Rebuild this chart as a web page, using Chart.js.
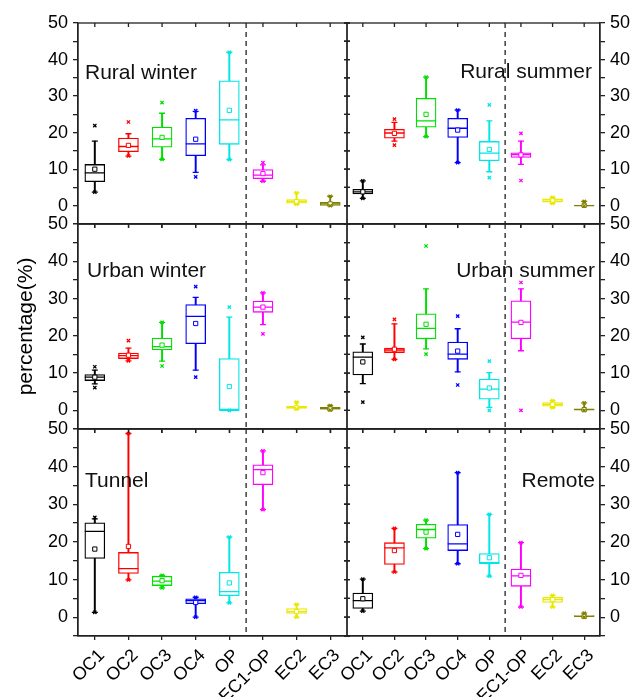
<!DOCTYPE html>
<html>
<head>
<meta charset="utf-8">
<script src="https://cdn.jsdelivr.net/npm/chart.js@4.4.0/dist/chart.umd.min.js"></script>
<style>
  html, body { margin: 0; background: #fff; }
  #wrap { position: relative; width: 634px; height: 697px; overflow: hidden; }
  #wrap canvas { position: absolute; left: 0; top: 0; }
</style>
</head>
<body>
<div id="wrap"></div>
<script>
const categories = ['OC1', 'OC2', 'OC3', 'OC4', 'OP', 'EC1-OP', 'EC2', 'EC3'];
const colors = ['#000000', '#ff0000', '#00e000', '#0000ff', '#00e5e5', '#ff00ff', '#e8e800', '#808000'];

// one row per category: [lowest, whisker low, Q1, median, Q3, whisker high, highest, mean]
const ruralWinter = [
  [3.7, 3.7, 6.6, 9.0, 11.3, 17.7, 21.9, 10.0],
  [13.6, 13.6, 14.8, 16.2, 18.5, 19.7, 22.9, 16.5],
  [12.7, 12.7, 16.0, 18.3, 21.5, 25.3, 28.2, 18.7],
  [7.9, 9.1, 13.7, 16.9, 23.9, 25.8, 26.0, 18.2],
  [12.6, 12.6, 16.8, 23.5, 34.2, 42.0, 42.0, 26.1],
  [6.7, 6.7, 7.4, 8.4, 9.9, 11.2, 11.8, 8.8],
  [0.4, 0.4, 0.7, 1.2, 1.7, 3.5, 3.5, 1.1],
  [0.0, 0.0, 0.1, 0.5, 0.9, 2.6, 2.6, 0.5]
];
const ruralSummer = [
  [2.0, 2.0, 3.2, 3.8, 4.5, 6.8, 6.8, 3.8],
  [16.6, 17.7, 18.5, 19.9, 20.9, 22.8, 23.7, 19.8],
  [18.9, 18.9, 21.5, 23.2, 29.4, 35.2, 35.2, 25.0],
  [11.8, 11.8, 18.7, 21.2, 23.9, 26.2, 26.2, 20.7],
  [7.7, 9.3, 12.3, 14.4, 17.6, 23.2, 27.6, 15.4],
  [6.9, 11.3, 13.2, 14.0, 14.5, 17.7, 19.8, 13.9],
  [0.6, 0.6, 1.0, 1.6, 1.9, 2.3, 2.3, 1.5],
  [0.0, 0.0, 0.0, 0.05, 0.15, 1.2, 1.2, 0.1]
];
const urbanWinter = [
  [6.1, 7.1, 8.0, 8.9, 9.6, 10.8, 11.7, 8.9],
  [13.3, 13.3, 13.9, 14.7, 15.4, 16.7, 18.7, 14.8],
  [11.9, 13.2, 16.2, 17.1, 19.4, 23.6, 23.6, 17.5],
  [8.9, 10.8, 17.9, 25.2, 28.4, 30.3, 33.2, 23.3],
  [0.0, 0.0, 0.0, 0.0, 13.9, 25.0, 27.7, 6.4],
  [20.5, 23.0, 26.3, 27.7, 29.3, 31.5, 31.5, 27.7],
  [0.4, 0.4, 0.5, 0.8, 1.1, 2.2, 2.2, 0.7],
  [0.1, 0.1, 0.3, 0.5, 0.8, 1.3, 1.3, 0.4]
];
const urbanSummer = [
  [2.2, 7.2, 9.5, 14.3, 15.7, 17.8, 19.6, 13.0],
  [13.7, 13.7, 15.5, 16.2, 16.7, 23.2, 24.4, 16.4],
  [15.1, 16.5, 19.2, 22.0, 25.9, 32.6, 44.1, 23.1],
  [6.8, 10.3, 13.7, 15.1, 18.3, 21.9, 25.3, 15.9],
  [0.0, 0.8, 3.0, 5.7, 8.4, 10.1, 13.2, 6.0],
  [0.0, 16.0, 19.2, 23.7, 29.4, 32.6, 34.3, 23.6],
  [0.7, 0.7, 1.1, 1.6, 2.1, 2.6, 2.6, 1.6],
  [0.0, 0.0, 0.0, 0.2, 0.4, 2.0, 2.0, 0.2]
];
const tunnel = [
  [1.3, 1.3, 15.6, 22.8, 25.1, 26.1, 26.5, 18.1],
  [9.9, 9.9, 11.6, 12.9, 17.2, 48.8, 48.8, 18.8],
  [7.8, 7.8, 8.4, 9.6, 10.9, 11.1, 11.1, 9.7],
  [0.0, 0.0, 3.6, 4.4, 4.9, 5.3, 5.3, 3.9],
  [3.8, 3.8, 5.7, 6.8, 11.9, 21.3, 21.3, 9.1],
  [28.6, 28.6, 35.2, 39.2, 40.5, 44.2, 44.2, 38.4],
  [0.0, 0.0, 1.0, 1.5, 2.3, 3.4, 3.4, 1.5],
  null
];
const remote = [
  [1.6, 1.6, 2.3, 4.4, 6.4, 10.1, 10.1, 4.9],
  [12.0, 12.0, 14.0, 18.4, 19.8, 23.6, 23.6, 17.7],
  [18.2, 18.2, 21.0, 23.3, 24.7, 25.8, 25.8, 22.6],
  [14.2, 14.2, 17.7, 19.5, 24.6, 38.4, 38.4, 22.0],
  [10.9, 10.9, 14.2, 14.5, 16.9, 27.3, 27.3, 15.8],
  [2.7, 2.7, 8.2, 11.0, 12.8, 19.8, 19.8, 11.1],
  [2.7, 2.7, 3.9, 4.7, 5.3, 5.8, 5.8, 4.7],
  [0.0, 0.0, 0.0, 0.2, 0.4, 1.1, 1.1, 0.2]
];

const panels = [
  { name: 'Rural winter', stats: ruralWinter, side: 'left', row: 0, dx: 7, dy: 50 },
  { name: 'Rural summer', stats: ruralSummer, side: 'right', row: 0, dx: 8, dy: 49 },
  { name: 'Urban winter', stats: urbanWinter, side: 'left', row: 1, dx: 9, dy: 47, title: 'percentage(%)' },
  { name: 'Urban summer', stats: urbanSummer, side: 'right', row: 1, dx: 5, dy: 47 },
  { name: 'Tunnel', stats: tunnel, side: 'left', row: 2, dx: 7, dy: 52 },
  { name: 'Remote', stats: remote, side: 'right', row: 2, dx: 5, dy: 52 }
];

Chart.defaults.font.family = '"Liberation Sans", Arial, sans-serif';
Chart.defaults.color = '#000';

const W = 634, H = 697;
const rowTop = [23, 224, 429], rowBottom = [224, 429, 636];
const leftX = 78, splitX = 347, rightX = 600;
const ink = '#222';

// frame, mirror ticks, OP | EC divider and panel name
const panelFrame = {
  id: 'panelFrame',
  afterDraw(chart, args, opts) {
    const { ctx, chartArea: a, scales: { x, y } } = chart;
    ctx.save();
    ctx.strokeStyle = ink;
    ctx.lineWidth = 1.3;
    ctx.strokeRect(a.left, a.top, a.right - a.left, a.bottom - a.top);
    ctx.beginPath();
    x.ticks.forEach((t, i) => {
      const px = x.getPixelForTick(i);
      ctx.moveTo(px, a.top);
      ctx.lineTo(px, a.top + 4);
    });
    const sx = y.position === 'left' ? a.right : a.left;
    y.ticks.forEach((t, i) => {
      const py = y.getPixelForTick(i);
      ctx.moveTo(sx - 3, py);
      ctx.lineTo(sx + 3, py);
    });
    ctx.stroke();

    const dx = x.getPixelForValue(4.5);
    ctx.setLineDash([5, 4]);
    ctx.beginPath();
    ctx.moveTo(dx, a.top);
    ctx.lineTo(dx, a.bottom);
    ctx.stroke();
    ctx.setLineDash([]);

    ctx.font = '21px "Liberation Sans", Arial, sans-serif';
    ctx.fillStyle = '#111';
    ctx.textBaseline = 'middle';
    ctx.textAlign = opts.align;
    const tx = opts.align === 'left' ? a.left + opts.dx : a.right - opts.dx;
    ctx.fillText(opts.text, tx, a.top + opts.dy);
    ctx.restore();
  }
};

function boxDatasets(stats) {
  const pick = k => stats.map(r => (r ? r[k] : null));
  const span = (lo, hi) => stats.map(r => (r ? [r[lo], r[hi]] : null));
  const pts = (k, style, radius, extra) => Object.assign({
    type: 'line',
    data: pick(k),
    showLine: false,
    pointStyle: style,
    pointRadius: radius,
    pointHoverRadius: radius,
    pointBorderColor: colors,
    pointBackgroundColor: colors,
    pointBorderWidth: 1.3
  }, extra);
  return [
    // whiskers
    { type: 'bar', data: span(1, 5), backgroundColor: colors, borderWidth: 0,
      barThickness: 1.3, grouped: false, order: 9 },
    // boxes
    { type: 'bar', data: span(2, 4), backgroundColor: '#fff', borderColor: colors,
      borderWidth: 1.3, borderSkipped: false, barThickness: 20, grouped: false, order: 8 },
    pts(3, 'line', 10, { order: 7 }),           // median
    pts(1, 'line', 3, { order: 6 }),            // whisker caps
    pts(5, 'line', 3, { order: 6 }),
    pts(7, 'rect', 3, { order: 5, pointBackgroundColor: '#fff', pointBorderWidth: 1 }), // mean
    pts(0, 'crossRot', 2.3, { order: 4 }),      // lowest
    pts(6, 'crossRot', 2.3, { order: 4 })       // highest
  ];
}

const wrap = document.getElementById('wrap');
panels.forEach(p => {
  const cv = document.createElement('canvas');
  cv.width = W;
  cv.height = H;
  wrap.appendChild(cv);
  const left = p.side === 'left';
  const bottomRow = p.row === 2;

  new Chart(cv, {
    type: 'bar',
    data: { labels: categories, datasets: boxDatasets(p.stats) },
    options: {
      responsive: false,
      animation: false,
      events: [],
      layout: {
        padding: {
          left: left ? 0 : splitX,
          right: left ? W - splitX : 0,
          top: rowTop[p.row],
          bottom: bottomRow ? 0 : H - rowBottom[p.row]
        }
      },
      plugins: {
        legend: { display: false },
        tooltip: { enabled: false },
        panelFrame: { text: p.name, align: left ? 'left' : 'right', dx: p.dx, dy: p.dy }
      },
      scales: {
        x: {
          offset: true,
          grid: { offset: false, drawOnChartArea: false, color: ink, tickLength: 4, lineWidth: 1.3 },
          border: { color: ink, width: 1.3 },
          ticks: { display: bottomRow, autoSkip: false, maxRotation: 45, minRotation: 45,
                   font: { size: 18 }, color: '#000', padding: 5, labelOffset: 7 },
          afterFit: s => { s.height = bottomRow ? H - rowBottom[2] : 0; }
        },
        y: {
          position: left ? 'left' : 'right',
          min: -5,
          max: 50,
          ticks: { stepSize: 5, autoSkip: false, font: { size: 18 }, color: '#000', padding: 5,
                   callback: v => (v % 10 === 0 ? v : '') },
          grid: { drawOnChartArea: false, color: ink, tickLength: 5, lineWidth: 1.3 },
          border: { color: ink, width: 1.3 },
          title: p.title
            ? { display: true, text: p.title, font: { size: 21 }, color: '#000', padding: { top: 14, bottom: 0 } }
            : { display: false },
          afterFit: s => { s.width = left ? leftX : W - rightX; }
        }
      }
    },
    plugins: [panelFrame]
  });
});
</script>
</body>
</html>
